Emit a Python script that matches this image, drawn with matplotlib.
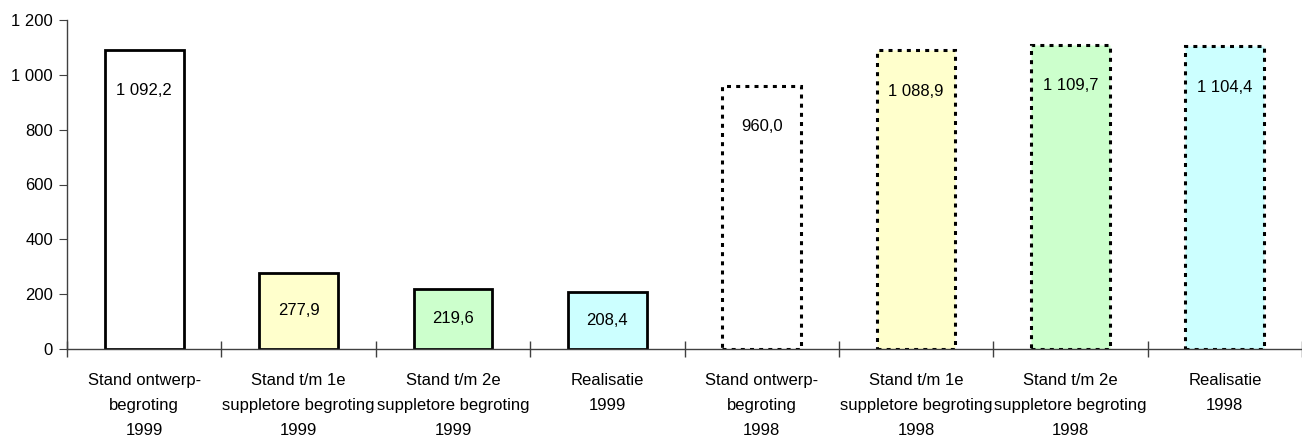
import numpy as np
import matplotlib.pyplot as plt
from matplotlib.ticker import FuncFormatter

plt.rcParams['font.family'] = ['Liberation Sans', 'DejaVu Sans']

categories = ['Stand ontwerp-\nbegroting\n1999',
              'Stand t/m 1e\nsuppletore begroting\n1999',
              'Stand t/m 2e\nsuppletore begroting\n1999',
              'Realisatie\n1999',
              'Stand ontwerp-\nbegroting\n1998',
              'Stand t/m 1e\nsuppletore begroting\n1998',
              'Stand t/m 2e\nsuppletore begroting\n1998',
              'Realisatie\n1998']
values = [1092.2, 277.9, 219.6, 208.4, 960.0, 1088.9, 1109.7, 1104.4]
colors = ['#FFFFFF', '#FFFFCC', '#CCFFCC', '#CCFFFF',
          '#FFFFFF', '#FFFFCC', '#CCFFCC', '#CCFFFF']
dotted = [False, False, False, False, True, True, True, True]


def nl_fmt(v):
    # Dutch number style: space as thousands separator, comma decimal
    return f'{v:,.1f}'.replace(',', ' ').replace('.', ',')


fig = plt.figure(figsize=(13.02, 4.43), dpi=100)
ax = fig.add_axes([67 / 1302, 94 / 443, (1302 - 67) / 1302, (349 - 20) / 443])

x = np.arange(len(values))
for xi, v, c, d in zip(x, values, colors, dotted):
    if d:
        ax.bar(xi, v, width=0.51, color=c, edgecolor='black', linewidth=2.2,
               linestyle=(0, (1.3, 1.7)), zorder=2)
    else:
        ax.bar(xi, v, width=0.51, color=c, edgecolor='black', linewidth=2.0,
               zorder=2)
    ty = max(v / 2, v - 150)
    ax.text(xi, ty, nl_fmt(v), ha='center', va='center', fontsize=12,
            zorder=3)

ax.set_ylim(0, 1200)
ax.set_xlim(-0.5, -0.5 + (1302 - 67) / 156)
ax.set_yticks(np.arange(0, 1201, 200))
ax.yaxis.set_major_formatter(FuncFormatter(lambda v, p: f'{int(v):,}'.replace(',', ' ')))

ax.set_xticks(x)
ax.set_xticklabels(categories, fontsize=12, linespacing=1.85)
ax.set_xticks(np.arange(-0.5, 8.0, 1.0), minor=True)
ax.tick_params(axis='x', which='major', length=0, pad=17)
ax.tick_params(axis='x', which='minor', direction='inout', length=12,
               color='#404040', width=1)
ax.tick_params(axis='y', direction='out', length=6, color='#404040',
               labelsize=12, pad=4)

for s in ['top', 'right']:
    ax.spines[s].set_visible(False)
for s in ['left', 'bottom']:
    ax.spines[s].set_color('#404040')
    ax.spines[s].set_linewidth(1)

fig.savefig('out.png', dpi=100)
